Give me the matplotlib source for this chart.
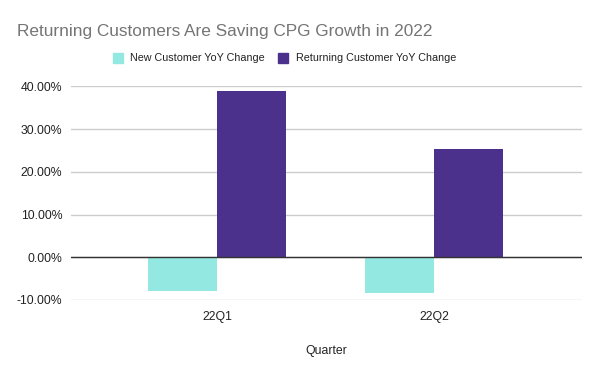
import matplotlib
matplotlib.use("Agg")
import matplotlib.pyplot as plt
from matplotlib.patches import Rectangle
from matplotlib.ticker import FuncFormatter

plt.rcParams["font.family"] = ["Liberation Sans", "DejaVu Sans"]

quarters = ["22Q1", "22Q2"]
new_change = [-8.0, -8.4]
returning_change = [38.9, 25.3]
series_names = ["New Customer YoY Change", "Returning Customer YoY Change"]
colors = ["#93e9e1", "#4c318c"]

fig = plt.figure(figsize=(6, 3.71), dpi=100)
ax = fig.add_axes([0.118, 0.1914, 0.852, 0.576])

x = list(range(len(quarters)))
w = 0.318
ax.bar([i - w / 2 for i in x], new_change, width=w, color=colors[0], zorder=3)
ax.bar([i + w / 2 for i in x], returning_change, width=w, color=colors[1], zorder=3)

ax.set_xlim(-0.673, 1.682)
ax.set_ylim(-10, 40)
ax.set_yticks([-10, 0, 10, 20, 30, 40])
ax.yaxis.set_major_formatter(FuncFormatter(lambda v, p: f"{v:.2f}%"))
ax.grid(axis="y", color="#cccccc", linewidth=1, zorder=0)
ax.axhline(0, color="#333333", linewidth=1, zorder=4)
for s in ax.spines.values():
    s.set_visible(False)
ax.tick_params(length=0, labelsize=8.8, colors="#222222")
ax.tick_params(axis="y", pad=6)
ax.tick_params(axis="x", pad=8)
ax.set_xticks(x)
ax.set_xticklabels(quarters)
ax.set_xlabel("Quarter", fontsize=8.8, color="#222222", labelpad=16)

fig.text(0.028, 0.915, "Returning Customers Are Saving CPG Growth in 2022",
         fontsize=12.4, color="#757575", va="center", ha="left")

# legend
for (sx, tx), name, c in zip([(113, 130), (278, 296)], series_names, colors):
    fig.patches.append(Rectangle((sx / 600, 1 - 63 / 371), 10 / 600, 10 / 371,
                                 transform=fig.transFigure, color=c))
    fig.text(tx / 600, 1 - 58 / 371, name, fontsize=7.75, color="#222222",
             va="center", ha="left")

fig.savefig("out.png", dpi=100)
